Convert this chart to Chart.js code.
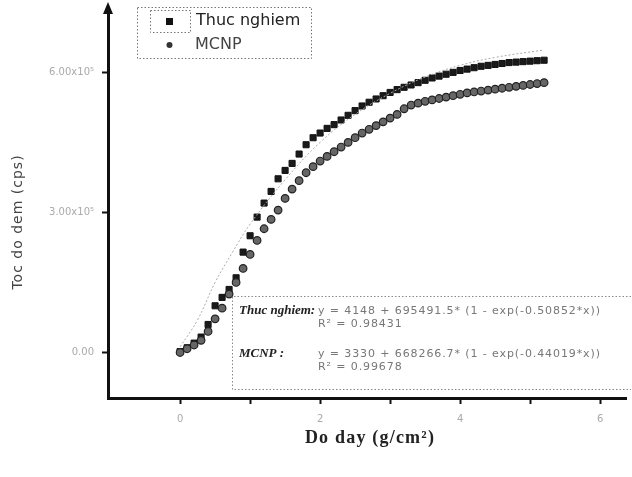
<!DOCTYPE html>
<html lang="en">
<head>
  <meta charset="UTF-8" />
  <title>Toc do dem vs Do day</title>
  <script src="https://cdn.jsdelivr.net/npm/chart.js@4.4.1/dist/chart.umd.min.js"></script>
  <style>
    html, body { margin: 0; padding: 0; background: #fff; }
    #wrap { width: 632px; height: 477px; position: relative; }
  </style>
</head>
<body>
  <div id="wrap"><canvas id="chart" width="632" height="477"></canvas></div>

  <script>
    // thickness (g/cm2), one step 0.1 from 0 to 5.2
    const thickness = [0.0,0.1,0.2,0.3,0.4,0.5,0.6,0.7,0.8,0.9,1.0,1.1,1.2,1.3,1.4,1.5,1.6,1.7,1.8,1.9,
      2.0,2.1,2.2,2.3,2.4,2.5,2.6,2.7,2.8,2.9,3.0,3.1,3.2,3.3,3.4,3.5,3.6,3.7,3.8,3.9,
      4.0,4.1,4.2,4.3,4.4,4.5,4.6,4.7,4.8,4.9,5.0,5.1,5.2];

    // count rate, in thousands of cps
    const thucNghiem = [2,10,20,33,60,100,118,135,160,215,250,290,320,345,372,390,405,425,445,460,
      470,480,488,498,508,518,528,536,543,550,557,563,568,573,578,583,588,592,596,600,
      604,607,610,613,615,617,619,621,622,623,624,625,626];
    const mcnp = [0,8,16,26,45,72,95,125,150,180,210,240,265,285,305,330,350,368,385,398,
      410,420,430,440,450,460,470,478,486,494,502,510,522,530,534,538,541,544,547,550,
      553,556,558,560,562,564,566,568,570,572,574,576,578];

    // faint dotted fit curve seen in the picture
    const fitX = [0, 0.25, 0.5, 0.75, 1.0, 1.5, 2.0, 2.5, 3.0, 3.5, 4.0, 4.5, 5.2];
    const fitY = [12, 70, 150, 215, 275, 370, 450, 510, 555, 590, 615, 632, 648];

    const xTicks = [0, 1, 2, 3, 4, 5, 6];
    const xTickLabels = {0: "0", 2: "2", 4: "4", 6: "6"};
    const yTicks = [0, 300000, 600000];
    const yTickLabels = {0: "0.00", 300000: "3.00x10\u2075", 600000: "6.00x10\u2075"};

    const toPts = (xs, ys) => xs.map((x, i) => ({ x: x, y: ys[i] * 1000 }));

    const decor = {
      id: "decor",
      afterDraw(chart) {
        const c = chart.ctx;
        const a = chart.chartArea;
        c.save();

        // arrow on top of y axis
        c.fillStyle = "#111";
        c.beginPath();
        c.moveTo(a.left, 2);
        c.lineTo(a.left - 5, 14);
        c.lineTo(a.left + 5, 14);
        c.closePath();
        c.fill();

        // legend box
        c.setLineDash([1.5, 2]);
        c.strokeStyle = "#777";
        c.lineWidth = 1;
        c.strokeRect(137.5, 7.5, 174, 51);
        c.strokeRect(150.5, 10.5, 40, 22);
        c.setLineDash([]);
        c.fillStyle = "#111";
        c.fillRect(166, 18, 7, 7);
        c.beginPath();
        c.arc(169.5, 45, 3, 0, Math.PI * 2);
        c.fillStyle = "#333";
        c.fill();
        c.font = "16px 'DejaVu Sans'";
        c.textBaseline = "middle";
        c.fillStyle = "#222";
        c.fillText("Thuc nghiem", 196, 21);
        c.fillStyle = "#444";
        c.fillText("MCNP", 195, 45);

        // equation box
        c.setLineDash([1.5, 2]);
        c.strokeStyle = "#888";
        c.beginPath();
        c.moveTo(631, 296.5); c.lineTo(232.5, 296.5); c.lineTo(232.5, 389.5); c.lineTo(631, 389.5);
        c.stroke();
        c.setLineDash([]);
        c.font = "italic bold 13px 'Liberation Serif'";
        c.fillStyle = "#222";
        c.fillText("Thuc nghiem:", 239, 311);
        c.fillText("MCNP :", 239, 354);
        c.font = "11px 'DejaVu Sans'";
        c.letterSpacing = "0.9px";
        c.fillStyle = "#777";
        c.fillText("y = 4148 + 695491.5* (1 - exp(-0.50852*x))", 318, 311);
        c.fillText("R\u00b2 = 0.98431", 318, 324);
        c.fillText("y = 3330 + 668266.7* (1 - exp(-0.44019*x))", 318, 354);
        c.fillText("R\u00b2 = 0.99678", 318, 367);

        // axis titles
        c.fillStyle = "#222";
        c.font = "bold 18px 'Liberation Serif'";
        c.letterSpacing = "1.2px";
        c.textAlign = "center";
        c.fillText("Do day (g/cm\u00b2)", 370, 438);
        c.translate(18, 222);
        c.rotate(-Math.PI / 2);
        c.font = "14px 'DejaVu Sans'";
        c.letterSpacing = "1px";
        c.fillStyle = "#444";
        c.fillText("Toc do dem (cps)", 0, 0);
        c.restore();
      }
    };

    new Chart(document.getElementById("chart"), {
      type: "scatter",
      data: {
        datasets: [
          {
            label: "fit",
            data: toPts(fitX, fitY),
            showLine: true,
            borderColor: "#aaa",
            borderWidth: 1,
            borderDash: [2, 2],
            pointRadius: 0,
            tension: 0.4
          },
          {
            label: "MCNP",
            data: toPts(thickness, mcnp),
            pointStyle: "circle",
            pointRadius: 3.8,
            backgroundColor: "#666",
            borderColor: "#222",
            borderWidth: 1.2
          },
          {
            label: "Thuc nghiem",
            data: toPts(thickness, thucNghiem),
            pointStyle: "rect",
            pointRadius: 4.3,
            backgroundColor: "#1a1a1a",
            borderColor: "#111",
            borderWidth: 1
          }
        ]
      },
      options: {
        responsive: false,
        animation: false,
        layout: { padding: { top: 10, right: 0, left: 0, bottom: 0 } },
        plugins: { legend: { display: false }, tooltip: { enabled: false } },
        scales: {
          x: {
            type: "linear",
            min: -1.03,
            max: 6.38,
            afterBuildTicks: s => { s.ticks = xTicks.map(v => ({ value: v })); },
            afterFit: s => { s.height = 79; },
            grid: { drawOnChartArea: false, drawTicks: true, tickLength: 6, tickWidth: 2, color: "#111" },
            border: { display: true, width: 3, color: "#111" },
            ticks: {
              autoSkip: false,
              maxRotation: 0,
              padding: 9,
              color: "#aaa",
              font: { family: "DejaVu Sans", size: 10 },
              callback: v => xTickLabels[v] || ""
            }
          },
          y: {
            type: "linear",
            min: -97500,
            max: 725000,
            afterBuildTicks: s => { s.ticks = yTicks.map(v => ({ value: v })); },
            afterFit: s => { s.width = 108; },
            grid: { drawOnChartArea: false, drawTicks: true, tickLength: 6, tickWidth: 2, color: "#111" },
            border: { display: true, width: 3, color: "#111" },
            ticks: {
              padding: 8,
              color: "#aaa",
              font: { family: "DejaVu Sans", size: 10 },
              callback: v => yTickLabels[v] || ""
            }
          }
        }
      },
      plugins: [decor]
    });
  </script>
</body>
</html>
